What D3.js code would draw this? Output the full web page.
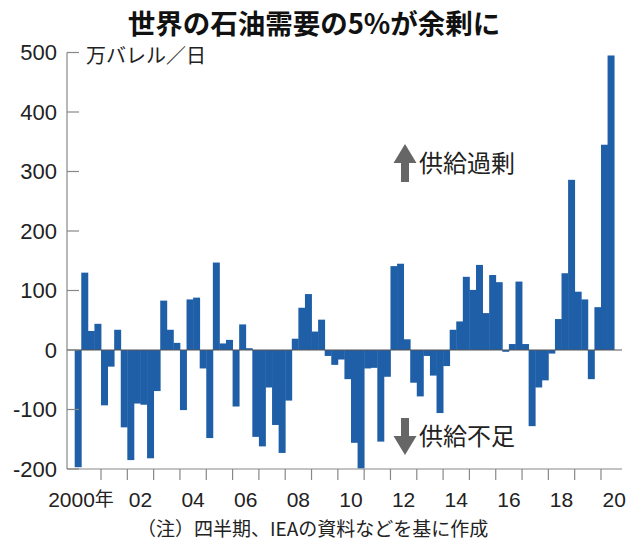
<!DOCTYPE html>
<html>
<head>
<meta charset="utf-8">
<script src="https://cdn.jsdelivr.net/npm/d3@7"></script>
<style>
  body { margin: 0; background: #fff; }
  text { font-family: "Liberation Sans", Arial, "Noto Sans CJK JP", sans-serif; fill: #222; }
  .jp { font-family: "Noto Sans CJK JP", sans-serif; }
</style>
</head>
<body>
<svg id="chart" width="630" height="550"></svg>
<script>
// quarterly surplus / shortage, 2000Q1 - 2020Q2 (万バレル/日)
const years = d3.range(2000, 2021);
const quarterValues = [
  -197, 130, 32, 44,
  -93, -28, 34, -130,
  -185, -90, -92, -182,
  -69, 83, 34, 12,
  -101, 85, 88, -31,
  -148, 147, 11, 17,
  -95, 43, 3, -146,
  -162, -63, -126, -173,
  -85, 19, 71, 94,
  31, 51, -10, -25,
  -16, -49, -156, -199,
  -31, -30, -154, -45,
  141, 145, 18, -55,
  -78, -10, -43, -106,
  -27, 34, 48, 123,
  101, 143, 62, 126,
  114, -3, 10, 115,
  10, -128, -63, -51,
  -6, 52, 129, 286,
  98, 85, -49, 72,
  345, 495
];
const yTicks = [-200, -100, 0, 100, 200, 300, 400, 500];
const xLabelYears = [2000, 2002, 2004, 2006, 2008, 2010, 2012, 2014, 2016, 2018, 2020];

const titleText = "世界の石油需要の5%が余剰に";
const unitText = "万バレル／日";
const noteText = "（注）四半期、IEAの資料などを基に作成";

const data = quarterValues.map((v, i) => ({ t: 2000 + i / 4, value: v }));

const svg = d3.select("#chart");
const axisLeftX = 67;

const x = d3.scaleLinear().domain([2000, 2021]).range([74.7, 627.3]);
const y = d3.scaleLinear().domain([-200, 500]).range([469, 52.5]);

// title
svg.append("text")
  .attr("class", "jp")
  .attr("x", 314)
  .attr("y", 34)
  .attr("text-anchor", "middle")
  .style("font-size", "27.5px")
  .style("font-weight", "bold")
  .style("fill", "#111")
  .text(titleText);

// bars
const qw = x(2000.25) - x(2000);
svg.append("g")
  .selectAll("rect")
  .data(data)
  .enter()
  .append("rect")
    .attr("x", d => x(d.t))
    .attr("width", qw + 0.4)
    .attr("y", d => y(Math.max(0, d.value)))
    .attr("height", d => Math.abs(y(d.value) - y(0)))
    .attr("fill", "#1f5fa8");

// zero line
svg.append("line")
  .attr("x1", axisLeftX).attr("x2", 622)
  .attr("y1", y(0)).attr("y2", y(0))
  .attr("stroke", "#555")
  .attr("stroke-width", 1);

// y axis
svg.append("line")
  .attr("x1", axisLeftX).attr("x2", axisLeftX)
  .attr("y1", y(500)).attr("y2", y(-200))
  .attr("stroke", "#888").attr("stroke-width", 1.2);

const yg = svg.append("g");
yg.selectAll("line")
  .data(yTicks)
  .enter()
  .append("line")
    .attr("x1", axisLeftX).attr("x2", axisLeftX + 12)
    .attr("y1", d => y(d)).attr("y2", d => y(d))
    .attr("stroke", "#888").attr("stroke-width", 1.2);
yg.selectAll("text")
  .data(yTicks)
  .enter()
  .append("text")
    .attr("x", 57)
    .attr("y", d => y(d))
    .attr("dy", "0.36em")
    .attr("text-anchor", "end")
    .style("font-size", "22px")
    .text(d => d);

// x axis
svg.append("line")
  .attr("x1", axisLeftX).attr("x2", 622)
  .attr("y1", y(-200)).attr("y2", y(-200))
  .attr("stroke", "#888").attr("stroke-width", 1.2);

const xg = svg.append("g");
xg.selectAll("line")
  .data(years.slice(1))
  .enter()
  .append("line")
    .attr("x1", d => x(d)).attr("x2", d => x(d))
    .attr("y1", y(-200)).attr("y2", y(-200) + 11)
    .attr("stroke", "#888").attr("stroke-width", 1.2);
xg.selectAll("text")
  .data(xLabelYears)
  .enter()
  .append("text")
    .attr("x", d => x(d + 0.5) + (d === 2000 ? 7 : 0))
    .attr("y", 507)
    .attr("text-anchor", d => d === 2000 ? "end" : "middle")
    .style("font-size", "21px")
    .text(d => d === 2000 ? "2000" : String(d).slice(2));
svg.append("text")
  .attr("class", "jp")
  .attr("x", x(2000.5) + 7)
  .attr("y", 506)
  .style("font-size", "19px")
  .text("年");

// unit
svg.append("text")
  .attr("class", "jp")
  .attr("x", 86)
  .attr("y", 63)
  .style("font-size", "20px")
  .text(unitText);

// annotations with arrows
function arrow(cx, tipY, baseY, up) {
  const dir = up ? 1 : -1;
  const headLen = 19;
  const pts = [
    [cx, tipY],
    [cx + 11.5, tipY + dir * headLen],
    [cx + 4, tipY + dir * headLen],
    [cx + 4, baseY],
    [cx - 4, baseY],
    [cx - 4, tipY + dir * headLen],
    [cx - 11.5, tipY + dir * headLen]
  ];
  svg.append("path")
    .attr("d", d3.line()(pts) + "Z")
    .attr("fill", "#666");
}
arrow(405, 144, 182, true);
arrow(405, 455, 418, false);

svg.append("text")
  .attr("class", "jp")
  .attr("x", 419)
  .attr("y", 172)
  .style("font-size", "24px")
  .text("供給過剰");
svg.append("text")
  .attr("class", "jp")
  .attr("x", 419)
  .attr("y", 445)
  .style("font-size", "24px")
  .text("供給不足");

// note
svg.append("text")
  .attr("class", "jp")
  .attr("x", 137)
  .attr("y", 536)
  .style("font-size", "19px")
  .text(noteText);
</script>
</body>
</html>
